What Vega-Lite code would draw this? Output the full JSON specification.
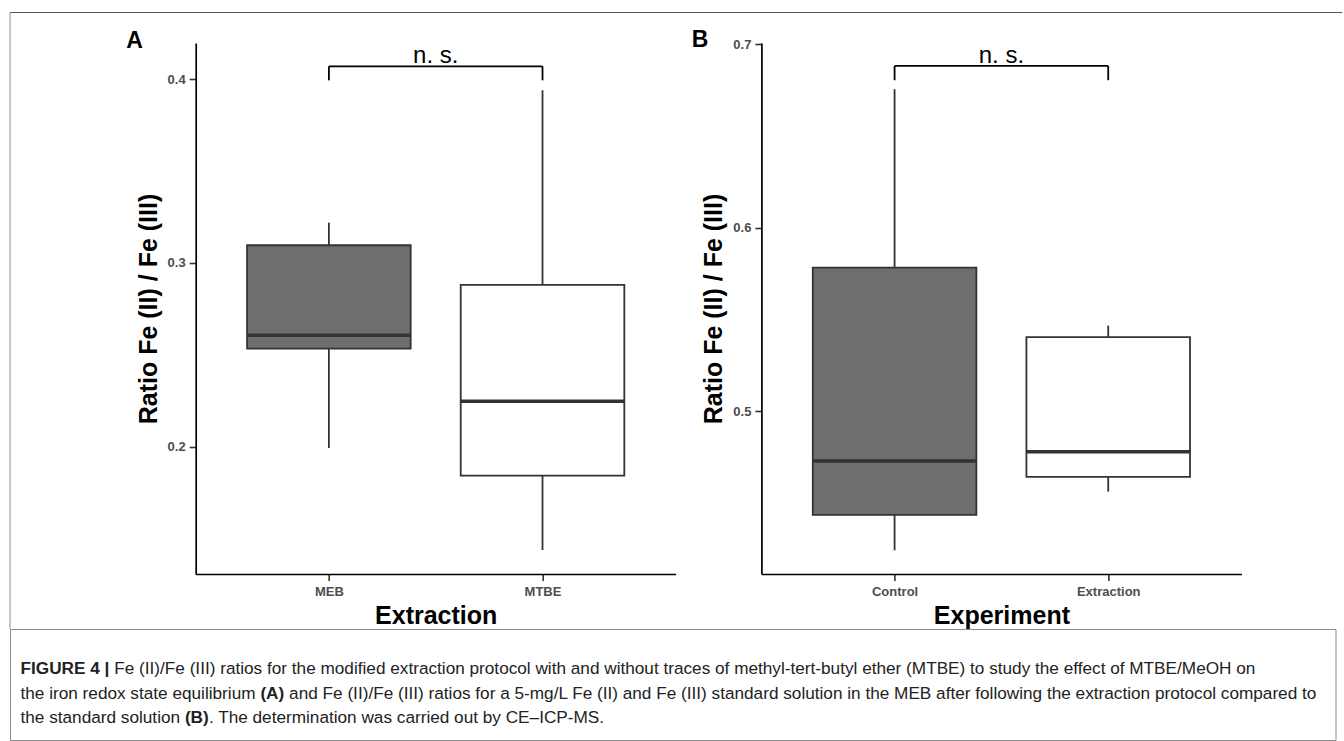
{
  "$schema": "https://vega.github.io/schema/vega-lite/v6.json",
  "padding": {"left": 9, "top": 11, "right": 0, "bottom": 0},
  "autosize": {"type": "pad"},
  "background": "white",
  "bounds": "flush",
  "spacing": 586,
  "config": {
    "view": {"stroke": null},
    "font": "Liberation Sans",
    "axis": {
      "grid": false,
      "domainColor": "#000000",
      "domainWidth": 1.7,
      "tickColor": "#333333",
      "tickWidth": 1.6,
      "tickSize": 6.5,
      "labelFont": "Liberation Sans",
      "labelFontSize": 13,
      "labelFontWeight": "bold",
      "labelColor": "#4D4D4D",
      "labelPadding": 4,
      "titleFont": "Liberation Sans",
      "titleFontSize": 25,
      "titleFontWeight": "bold",
      "titleColor": "#000000"
    },
    "axisX": {"labelAngle": 0, "titlePadding": 5, "labelPadding": 5},
    "axisY": {"titlePadding": 6},
    "title": {"font": "Liberation Sans", "fontSize": 23, "fontWeight": "bold", "color": "#000000", "anchor": "start", "frame": "bounds", "offset": 0}
  },
  "datasets": {
    "boxA": [
      {"g": 1, "name": "MEB", "lower": 0.1993, "q1": 0.2534, "median": 0.2607, "q3": 0.3096, "upper": 0.3219},
      {"g": 2, "name": "MTBE", "lower": 0.1439, "q1": 0.1843, "median": 0.2247, "q3": 0.2881, "upper": 0.3939}
    ],
    "boxB": [
      {"g": 1, "name": "Control", "lower": 0.4242, "q1": 0.4434, "median": 0.4728, "q3": 0.5782, "upper": 0.6755},
      {"g": 2, "name": "Extraction", "lower": 0.4561, "q1": 0.4642, "median": 0.4778, "q3": 0.5403, "upper": 0.5466}
    ],
    "bracketA": [
      {"x": 1, "x2": 2, "y": 0.4069, "y2": 0.4069},
      {"x": 1, "x2": 1, "y": 0.4069, "y2": 0.3993},
      {"x": 2, "x2": 2, "y": 0.4069, "y2": 0.3993}
    ],
    "bracketB": [
      {"x": 1, "x2": 2, "y": 0.6882, "y2": 0.6882},
      {"x": 1, "x2": 1, "y": 0.6882, "y2": 0.6804},
      {"x": 2, "x2": 2, "y": 0.6882, "y2": 0.6804}
    ],
    "labelA": [{"x": 1.5, "y": 0.4089, "label": "n. s."}],
    "labelB": [{"x": 1.5, "y": 0.6900, "label": "n. s."}],
    "caption": [
      {"id": "l1b", "line": 1, "text": "FIGURE 4 |"},
      {"id": "l1r", "line": 1, "text": "Fe (II)/Fe (III) ratios for the modified extraction protocol with and without traces of methyl-tert-butyl ether (MTBE) to study the effect of MTBE/MeOH on"},
      {"id": "l2a", "line": 2, "text": "the iron redox state equilibrium"},
      {"id": "l2b", "line": 2, "text": "(A)"},
      {"id": "l2r", "line": 2, "text": "and Fe (II)/Fe (III) ratios for a 5-mg/L Fe (II) and Fe (III) standard solution in the MEB after following the extraction protocol compared to"},
      {"id": "l3a", "line": 3, "text": "the standard solution"},
      {"id": "l3b", "line": 3, "text": "(B)"},
      {"id": "l3r", "line": 3, "text": ". The determination was carried out by CE–ICP-MS."}
    ]
  },
  "vconcat": [
    {
      "bounds": "flush",
      "spacing": 85.7,
      "hconcat": [
        {
          "width": 99.8,
          "height": 531,
          "data": {"values": [{}]},
          "layer": [
            {
              "mark": {"type": "rule", "color": "#8c8c8c", "strokeWidth": 1},
              "encoding": {
                "x": {"datum": 0, "type": "quantitative", "scale": {"domain": [0, 1], "nice": false, "zero": false}, "axis": null},
                "y": {"datum": 1.05744, "type": "quantitative", "scale": {"domain": [0, 1], "nice": false, "zero": false}, "axis": null},
                "y2": {"datum": -0.10358}
              }
            },
            {
              "mark": {"type": "rule", "color": "#555555", "strokeWidth": 1},
              "encoding": {
                "x": {"datum": 0, "type": "quantitative", "scale": {"domain": [0, 1], "nice": false, "zero": false}, "axis": null},
                "x2": {"datum": 13.3517},
                "y": {"datum": 1.05744, "type": "quantitative", "scale": {"domain": [0, 1], "nice": false, "zero": false}, "axis": null}
              }
            }
          ]
        },
        {
          "width": 480,
          "height": 531,
          "title": {"text": "A", "dx": -10, "dy": 14},
          "layer": [
            {
              "data": {"name": "boxA"},
              "layer": [
                {
                  "mark": {"type": "rule", "color": "#333333", "strokeWidth": 1.8},
                  "encoding": {
                    "x": {"field": "g", "type": "quantitative", "scale": {"domain": [0.4, 2.6], "nice": false, "zero": false}, "axis": {"values": [1, 2], "labelExpr": "datum.value == 1 ? 'MEB' : 'MTBE'", "title": "Extraction"}},
                    "y": {"field": "lower", "type": "quantitative", "scale": {"domain": [0.1308, 0.4196], "nice": false, "zero": false}, "axis": {"values": [0.2, 0.3, 0.4], "format": ".1f", "title": "Ratio Fe (II) / Fe (III)"}},
                    "y2": {"field": "upper"}
                  }
                },
                {
                  "mark": {"type": "bar", "orient": "vertical", "width": 163.6, "stroke": "#333333", "strokeWidth": 1.8},
                  "encoding": {
                    "x": {"field": "g", "type": "quantitative", "scale": {"domain": [0.4, 2.6], "nice": false, "zero": false}},
                    "y": {"field": "q1", "type": "quantitative", "scale": {"domain": [0.1308, 0.4196], "nice": false, "zero": false}},
                    "y2": {"field": "q3"},
                    "fill": {"field": "name", "type": "nominal", "scale": {"domain": ["MEB", "MTBE"], "range": ["#6E6E6E", "#FFFFFF"]}, "legend": null}
                  }
                },
                {
                  "mark": {"type": "tick", "orient": "horizontal", "size": 163.6, "thickness": 3.5, "color": "#333333", "opacity": 1},
                  "encoding": {
                    "x": {"field": "g", "type": "quantitative", "scale": {"domain": [0.4, 2.6], "nice": false, "zero": false}},
                    "y": {"field": "median", "type": "quantitative", "scale": {"domain": [0.1308, 0.4196], "nice": false, "zero": false}}
                  }
                }
              ]
            },
            {
              "data": {"name": "bracketA"},
              "mark": {"type": "rule", "color": "#000000", "strokeWidth": 1.8},
              "encoding": {
                "x": {"field": "x", "type": "quantitative", "scale": {"domain": [0.4, 2.6], "nice": false, "zero": false}},
                "x2": {"field": "x2"},
                "y": {"field": "y", "type": "quantitative", "scale": {"domain": [0.1308, 0.4196], "nice": false, "zero": false}},
                "y2": {"field": "y2"}
              }
            },
            {
              "data": {"name": "labelA"},
              "mark": {"type": "text", "font": "Liberation Sans", "fontSize": 24, "color": "#000000", "align": "center", "baseline": "alphabetic"},
              "encoding": {
                "x": {"field": "x", "type": "quantitative", "scale": {"domain": [0.4, 2.6], "nice": false, "zero": false}},
                "y": {"field": "y", "type": "quantitative", "scale": {"domain": [0.1308, 0.4196], "nice": false, "zero": false}},
                "text": {"field": "label"}
              }
            }
          ]
        },
        {
          "width": 480,
          "height": 531,
          "title": {"text": "B", "dx": -10, "dy": 18},
          "layer": [
            {
              "data": {"name": "boxB"},
              "layer": [
                {
                  "mark": {"type": "rule", "color": "#333333", "strokeWidth": 1.8},
                  "encoding": {
                    "x": {"field": "g", "type": "quantitative", "scale": {"domain": [0.4, 2.6], "nice": false, "zero": false}, "axis": {"values": [1, 2], "labelExpr": "datum.value == 1 ? 'Control' : 'Extraction'", "title": "Experiment"}},
                    "y": {"field": "lower", "type": "quantitative", "scale": {"domain": [0.4112, 0.7007], "nice": false, "zero": false}, "axis": {"values": [0.5, 0.6, 0.7], "format": ".1f", "title": "Ratio Fe (II) / Fe (III)"}},
                    "y2": {"field": "upper"}
                  }
                },
                {
                  "mark": {"type": "bar", "orient": "vertical", "width": 163.6, "stroke": "#333333", "strokeWidth": 1.8},
                  "encoding": {
                    "x": {"field": "g", "type": "quantitative", "scale": {"domain": [0.4, 2.6], "nice": false, "zero": false}},
                    "y": {"field": "q1", "type": "quantitative", "scale": {"domain": [0.4112, 0.7007], "nice": false, "zero": false}},
                    "y2": {"field": "q3"},
                    "fill": {"field": "name", "type": "nominal", "scale": {"domain": ["Control", "Extraction"], "range": ["#6E6E6E", "#FFFFFF"]}, "legend": null}
                  }
                },
                {
                  "mark": {"type": "tick", "orient": "horizontal", "size": 163.6, "thickness": 3.5, "color": "#333333", "opacity": 1},
                  "encoding": {
                    "x": {"field": "g", "type": "quantitative", "scale": {"domain": [0.4, 2.6], "nice": false, "zero": false}},
                    "y": {"field": "median", "type": "quantitative", "scale": {"domain": [0.4112, 0.7007], "nice": false, "zero": false}}
                  }
                }
              ]
            },
            {
              "data": {"name": "bracketB"},
              "mark": {"type": "rule", "color": "#000000", "strokeWidth": 1.8},
              "encoding": {
                "x": {"field": "x", "type": "quantitative", "scale": {"domain": [0.4, 2.6], "nice": false, "zero": false}},
                "x2": {"field": "x2"},
                "y": {"field": "y", "type": "quantitative", "scale": {"domain": [0.4112, 0.7007], "nice": false, "zero": false}},
                "y2": {"field": "y2"}
              }
            },
            {
              "data": {"name": "labelB"},
              "mark": {"type": "text", "font": "Liberation Sans", "fontSize": 24, "color": "#000000", "align": "center", "baseline": "alphabetic"},
              "encoding": {
                "x": {"field": "x", "type": "quantitative", "scale": {"domain": [0.4, 2.6], "nice": false, "zero": false}},
                "y": {"field": "y", "type": "quantitative", "scale": {"domain": [0.4112, 0.7007], "nice": false, "zero": false}},
                "text": {"field": "label"}
              }
            }
          ]
        }
      ]
    },
    {
      "width": 1325.5,
      "height": 111,
      "view": {"stroke": "#8c8c8c", "strokeWidth": 1},
      "data": {"name": "caption"},
      "encoding": {
        "y": {"field": "line", "type": "quantitative", "scale": {"domain": [-0.633, 3.898], "reverse": true, "nice": false, "zero": false}, "axis": null},
        "x": {"value": 10.5},
        "text": {"field": "text"}
      },
      "layer": [
        {"transform": [{"filter": "datum.id == 'l2a' || datum.id == 'l3a'"}], "mark": {"type": "text", "font": "Liberation Sans", "fontSize": 17.2, "color": "#222222", "align": "left", "baseline": "middle"}},
        {"transform": [{"filter": "datum.id == 'l1b'"}], "mark": {"type": "text", "font": "Liberation Sans", "fontSize": 17.2, "fontWeight": "bold", "color": "#222222", "align": "left", "baseline": "middle"}},
        {"transform": [{"filter": "datum.id == 'l1r'"}], "mark": {"type": "text", "font": "Liberation Sans", "fontSize": 17.2, "color": "#222222", "align": "left", "baseline": "middle", "dx": 93.7}},
        {"transform": [{"filter": "datum.id == 'l2b'"}], "mark": {"type": "text", "font": "Liberation Sans", "fontSize": 17.2, "fontWeight": "bold", "color": "#222222", "align": "left", "baseline": "middle", "dx": 239.9}},
        {"transform": [{"filter": "datum.id == 'l2r'"}], "mark": {"type": "text", "font": "Liberation Sans", "fontSize": 17.2, "color": "#222222", "align": "left", "baseline": "middle", "dx": 268.6}},
        {"transform": [{"filter": "datum.id == 'l3b'"}], "mark": {"type": "text", "font": "Liberation Sans", "fontSize": 17.2, "fontWeight": "bold", "color": "#222222", "align": "left", "baseline": "middle", "dx": 164.4}},
        {"transform": [{"filter": "datum.id == 'l3r'"}], "mark": {"type": "text", "font": "Liberation Sans", "fontSize": 17.2, "color": "#222222", "align": "left", "baseline": "middle", "dx": 188.4}}
      ]
    }
  ]
}
